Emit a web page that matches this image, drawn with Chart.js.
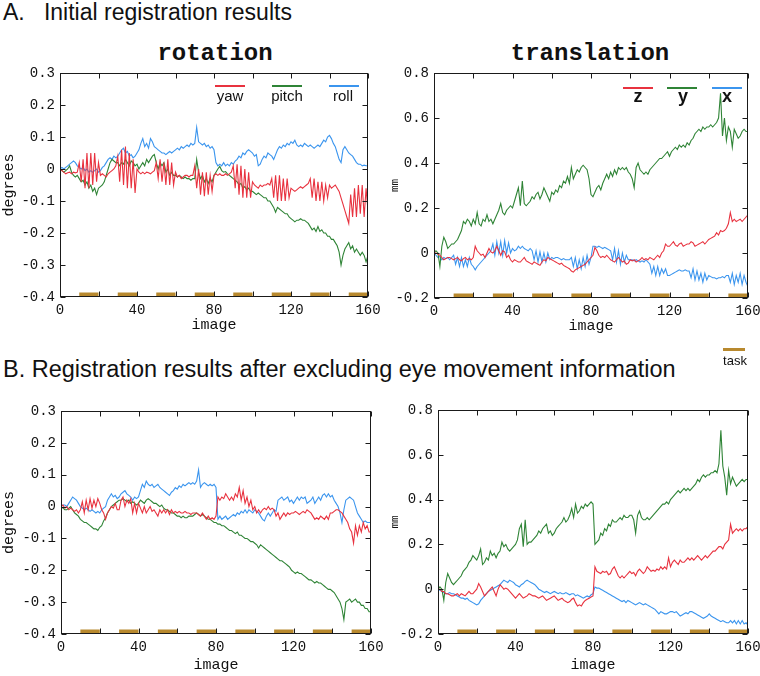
<!DOCTYPE html>
<html>
<head>
<meta charset="utf-8">
<script src="https://cdn.jsdelivr.net/npm/chart.js@4"></script>
<style>
  body { margin: 0; background: #fff; }
  #page { position: relative; width: 760px; height: 676px; overflow: hidden;
          font-family: "Liberation Sans", Arial, sans-serif; color: #111; }
  canvas { position: absolute; }
  .head { position: absolute; left: 3px; font-size: 23px; line-height: 23px; white-space: pre; }
  .sub { position: absolute; width: 300px; text-align: center; font-family: "Liberation Mono", monospace;
         font-weight: bold; font-size: 24px; line-height: 24px; }
  .key { position: absolute; width: 30px; height: 0; border-top: 2px solid; }
  .keyt { position: absolute; width: 60px; text-align: center; }
</style>
</head>
<body>
<div id="page">
  <div class="head" style="top:1px">A.   Initial registration results</div>
  <div class="sub" style="left:65px;top:42px">rotation</div>
  <div class="sub" style="left:440px;top:42px">translation</div>
  <div class="head" style="top:358px;font-size:23.5px">B. Registration results after excluding eye movement information</div>

  <canvas id="rotA" width="390" height="290" style="left:0;top:60px"></canvas>
  <canvas id="traA" width="380" height="290" style="left:380px;top:60px"></canvas>
  <canvas id="rotB" width="390" height="290" style="left:0;top:398px"></canvas>
  <canvas id="traB" width="380" height="290" style="left:380px;top:397px"></canvas>

  <div id="legRot"></div>
  <div id="legTra"></div>
  <div class="key" style="left:723px;top:348px;width:22px;border-top:3px solid #b8892e"></div>
  <div class="keyt" style="left:705px;top:354px;font-size:13px;line-height:13px">task</div>
</div>

<script>
// 가로축: 영상 번호 0 ~ 160
const images = Array.from({length: 161}, (_, i) => i);

// 과제 구간 (시작 영상, 길이)
const taskStarts = [10, 30, 50, 70, 90, 110, 130, 150];
const taskLength = 10;

const rotationNames = ["yaw", "pitch", "roll"];
const translationNames = ["z", "y", "x"];
const colors = ["#e8323f", "#2f8436", "#3b95ee"];
const taskColor = "#b8892e";

// A. 초기 정합 결과 - 회전 (degrees)
const yawA = [
  0,-0.005,-0.01,-0.015,-0.012,-0.01,-0.015,-0.01,-0.012,-0.01,
  0.02,-0.04,0.03,-0.06,0.05,-0.06,0.05,-0.05,0.05,-0.04,
  0.02,-0.02,-0.015,-0.02,-0.025,-0.015,-0.01,-0.005,0,0.01,
  0.04,-0.04,0.06,-0.05,0.07,-0.06,0.05,-0.06,0.03,-0.075,
  0,-0.01,-0.015,-0.01,-0.015,-0.01,-0.012,-0.015,-0.01,-0.005,
  0.02,-0.03,0.03,-0.04,0.02,-0.05,0.03,-0.05,0.02,-0.05,
  -0.01,-0.025,-0.02,-0.03,-0.025,-0.02,-0.02,-0.025,-0.02,-0.02,
  0.01,-0.06,0,-0.08,-0.01,-0.085,-0.01,-0.08,-0.02,-0.07,
  -0.02,-0.015,-0.02,-0.015,-0.02,-0.02,-0.015,-0.02,-0.015,-0.01,
  0.01,-0.06,0.015,-0.08,0.01,-0.09,0,-0.09,-0.01,-0.09,
  -0.04,-0.05,-0.055,-0.06,-0.05,-0.055,-0.05,-0.05,-0.045,-0.05,
  -0.03,-0.09,-0.02,-0.1,-0.02,-0.1,-0.03,-0.1,-0.03,-0.09,
  -0.06,-0.065,-0.07,-0.065,-0.06,-0.055,-0.06,-0.055,-0.05,-0.045,
  -0.03,-0.09,-0.03,-0.1,-0.04,-0.1,-0.04,-0.1,-0.05,-0.09,
  -0.05,-0.06,-0.055,-0.05,-0.06,-0.07,-0.09,-0.11,-0.13,-0.15,
  -0.17,-0.08,-0.15,-0.06,-0.15,-0.05,-0.14,-0.05,-0.15,-0.06,
  -0.13];
const pitchA = [
  0,-0.005,-0.01,-0.005,0,0.01,-0.01,-0.02,-0.025,-0.02,
  -0.03,-0.04,-0.035,-0.05,-0.04,-0.06,-0.05,-0.07,-0.06,-0.08,
  -0.06,-0.055,-0.05,-0.04,-0.02,0,0.02,0.03,0.025,0.02,
  0.02,0.01,0.02,0.015,0.03,0.02,0.01,0.025,0.02,0.01,
  0.015,0,0.01,0.02,0.01,0.03,0.02,0.03,0.04,0.045,
  0.02,0,0.02,0.01,0.02,-0.01,0,-0.02,-0.01,-0.02,
  -0.02,-0.025,-0.02,-0.025,-0.03,-0.025,-0.03,-0.03,-0.035,-0.03,
  -0.03,0.03,-0.01,-0.03,-0.02,-0.04,-0.03,-0.045,-0.03,-0.04,
  -0.02,-0.01,0,0.008,-0.005,-0.01,-0.008,-0.015,-0.02,-0.025,
  -0.03,-0.035,-0.04,-0.05,-0.045,-0.06,-0.055,-0.065,-0.06,-0.07,
  -0.07,-0.075,-0.08,-0.075,-0.08,-0.085,-0.09,-0.09,-0.1,-0.1,
  -0.11,-0.12,-0.135,-0.12,-0.125,-0.13,-0.135,-0.14,-0.14,-0.15,
  -0.155,-0.16,-0.165,-0.16,-0.16,-0.155,-0.16,-0.16,-0.165,-0.17,
  -0.18,-0.19,-0.185,-0.195,-0.18,-0.195,-0.19,-0.2,-0.2,-0.21,
  -0.21,-0.22,-0.22,-0.23,-0.24,-0.26,-0.3,-0.27,-0.25,-0.24,
  -0.23,-0.25,-0.24,-0.26,-0.25,-0.26,-0.27,-0.26,-0.27,-0.29,
  -0.27];
const rollA = [
  0,0.005,0,0.005,0.01,0.015,0.02,0.025,0.02,0.01,
  0.005,0,0.005,-0.005,0,-0.01,-0.005,-0.01,-0.005,0,
  -0.01,-0.005,0.005,0.01,0.02,0.03,0.035,0.03,0.04,0.035,
  0.04,0.05,0.06,0.065,0.05,0.055,0.04,0.045,0.035,0.04,
  0.05,0.06,0.08,0.095,0.07,0.08,0.065,0.095,0.085,0.07,
  0.065,0.06,0.055,0.05,0.05,0.045,0.05,0.055,0.05,0.055,
  0.06,0.065,0.06,0.07,0.065,0.07,0.075,0.07,0.08,0.075,
  0.08,0.13,0.085,0.08,0.075,0.08,0.07,0.075,0.065,0.07,
  0.06,0.02,0.01,0.015,0.01,0.02,0.01,0.015,0.01,0.02,
  0.015,0.025,0.03,0.04,0.035,0.05,0.045,0.055,0.06,0.055,
  0.05,0.04,0.045,0.01,0.015,0.03,0.04,0.035,0.05,0.045,
  0.04,0.03,0.045,0.06,0.07,0.065,0.075,0.07,0.08,0.075,
  0.085,0.08,0.09,0.075,0.07,0.075,0.07,0.08,0.075,0.07,
  0.075,0.07,0.065,0.07,0.075,0.07,0.08,0.09,0.085,0.1,
  0.105,0.095,0.08,0.07,0.05,0.03,0.02,0.06,0.07,0.06,
  0.05,0.045,0.04,0.03,0.02,0.015,0.015,0.01,0.012,0.01,
  0.01];

// A. 초기 정합 결과 - 이동 (mm)
const zA = [
  0,0,-0.005,-0.01,-0.02,-0.03,-0.025,-0.02,-0.02,-0.025,
  -0.03,-0.025,-0.02,-0.03,-0.035,-0.025,-0.02,-0.03,-0.025,-0.03,
  -0.02,0.03,0.01,0,-0.01,-0.005,-0.02,0,0.02,0.005,
  0,0.01,0.03,0.01,-0.01,0.01,0.005,-0.02,-0.01,-0.03,
  -0.04,-0.03,-0.035,-0.04,-0.04,-0.03,-0.02,-0.035,-0.04,-0.045,
  -0.05,-0.04,-0.045,-0.05,-0.055,-0.04,-0.03,-0.035,-0.02,-0.025,
  -0.03,-0.035,-0.04,-0.045,-0.05,-0.045,-0.055,-0.06,-0.065,-0.07,
  -0.08,-0.085,-0.075,-0.07,-0.065,-0.06,-0.055,-0.05,-0.04,-0.03,
  -0.02,-0.01,0.025,0.01,-0.01,-0.02,-0.015,-0.02,-0.01,-0.02,
  -0.03,-0.035,-0.04,-0.03,-0.02,-0.03,-0.04,-0.035,-0.05,-0.045,
  -0.03,-0.035,-0.03,-0.04,-0.035,-0.03,-0.02,-0.03,-0.025,-0.03,
  -0.02,-0.025,-0.03,-0.02,-0.01,-0.02,0,0.01,0.04,0.03,
  0.03,0.04,0.05,0.035,0.03,0.04,0.045,0.03,0.035,0.04,
  0.04,0.05,0.045,0.03,0.035,0.04,0.045,0.05,0.04,0.05,
  0.06,0.065,0.07,0.075,0.09,0.08,0.1,0.095,0.1,0.11,
  0.13,0.18,0.14,0.15,0.14,0.145,0.15,0.14,0.15,0.16,
  0.17];
const yA = [
  0,0.01,0,-0.06,0.03,0.07,0.05,0.02,0.03,0.04,
  0.04,0.05,0.06,0.08,0.1,0.14,0.13,0.15,0.14,0.12,
  0.15,0.13,0.18,0.13,0.12,0.15,0.14,0.17,0.14,0.15,
  0.13,0.15,0.17,0.19,0.22,0.18,0.17,0.19,0.2,0.21,
  0.2,0.23,0.26,0.29,0.21,0.32,0.22,0.21,0.22,0.23,
  0.25,0.24,0.26,0.27,0.24,0.26,0.29,0.27,0.25,0.23,
  0.27,0.26,0.28,0.27,0.3,0.29,0.32,0.31,0.34,0.31,
  0.38,0.33,0.35,0.37,0.36,0.38,0.39,0.38,0.37,0.33,
  0.26,0.25,0.27,0.29,0.3,0.28,0.31,0.33,0.35,0.33,
  0.36,0.34,0.37,0.35,0.38,0.37,0.38,0.37,0.38,0.36,
  0.35,0.33,0.29,0.38,0.4,0.37,0.36,0.35,0.36,0.35,
  0.37,0.38,0.39,0.4,0.41,0.42,0.42,0.43,0.44,0.45,
  0.43,0.45,0.46,0.47,0.46,0.48,0.47,0.48,0.47,0.49,
  0.48,0.5,0.51,0.53,0.54,0.55,0.54,0.56,0.55,0.56,
  0.56,0.57,0.56,0.57,0.58,0.6,0.71,0.52,0.6,0.5,
  0.56,0.54,0.47,0.55,0.53,0.51,0.52,0.54,0.55,0.54,
  0.54];
const xA = [
  0,-0.01,-0.02,-0.015,-0.03,-0.02,-0.025,-0.02,-0.03,-0.02,
  -0.01,-0.05,-0.02,-0.06,-0.02,-0.06,-0.03,-0.06,-0.02,-0.05,
  -0.06,-0.075,-0.06,-0.05,-0.04,-0.03,-0.02,-0.01,0,0.01,
  0.04,-0.01,0.05,0,0.05,-0.01,0.055,0,0.045,0,
  0.02,0.01,0.015,0.03,0.02,0.03,0.02,0.015,0.01,0.02,
  0.01,-0.03,0.01,-0.04,0.005,-0.04,0,-0.04,0,-0.03,
  -0.02,-0.025,-0.02,-0.02,-0.025,-0.03,-0.025,-0.03,-0.03,-0.03,
  -0.02,-0.06,-0.02,-0.07,-0.03,-0.07,-0.02,-0.06,-0.01,-0.05,
  -0.02,0.03,0.03,0.025,0.03,0.025,0.02,0.025,0.02,0.015,
  0.01,-0.03,0.02,-0.04,0.01,-0.05,0,-0.04,-0.01,-0.03,
  -0.03,-0.03,-0.035,-0.03,-0.035,-0.04,-0.035,-0.04,-0.03,-0.04,
  -0.05,-0.09,-0.06,-0.1,-0.06,-0.1,-0.07,-0.09,-0.07,-0.1,
  -0.1,-0.095,-0.09,-0.085,-0.08,-0.075,-0.08,-0.08,-0.075,-0.08,
  -0.08,-0.11,-0.07,-0.12,-0.08,-0.12,-0.09,-0.13,-0.09,-0.12,
  -0.1,-0.105,-0.11,-0.11,-0.115,-0.11,-0.11,-0.105,-0.11,-0.1,
  -0.1,-0.13,-0.09,-0.14,-0.1,-0.13,-0.09,-0.14,-0.1,-0.13,
  -0.15];

// B. 안구 운동 정보 제외 후 - 회전 (degrees)
const yawB = [
  0,0.005,-0.005,0,-0.01,-0.005,-0.01,-0.015,-0.01,-0.02,
  -0.01,0.015,-0.02,0.02,-0.01,0.025,-0.005,0.02,0,0.025,
  0.01,-0.01,-0.02,-0.04,-0.02,-0.01,0,-0.005,0.01,-0.01,
  -0.01,0.02,0.03,0,0.02,0.01,0.025,-0.02,0.01,-0.02,
  0.01,-0.005,-0.02,0,-0.02,-0.01,0,-0.015,-0.01,-0.02,
  -0.03,-0.01,-0.02,-0.01,-0.02,-0.01,-0.025,-0.01,-0.02,-0.015,
  -0.02,-0.015,-0.02,-0.02,-0.015,-0.02,-0.02,-0.025,-0.02,-0.02,
  -0.02,-0.025,-0.03,-0.02,-0.03,-0.04,-0.03,-0.04,-0.035,-0.04,
  -0.03,0.03,0.02,0.03,0.025,0.04,0.03,0.02,0.03,0.02,
  0.04,0.03,0.06,0.02,0.05,0.01,0.03,0,0.02,-0.01,
  0,-0.02,-0.01,-0.02,-0.01,-0.005,-0.01,0,-0.01,-0.005,
  -0.01,-0.03,-0.02,-0.04,-0.03,-0.02,-0.03,-0.02,-0.025,-0.02,
  -0.02,-0.015,-0.02,-0.025,-0.02,-0.015,-0.02,-0.01,-0.015,-0.02,
  -0.03,-0.04,-0.035,-0.04,-0.03,-0.035,-0.04,-0.03,-0.04,-0.02,
  -0.02,-0.015,-0.01,-0.01,-0.015,-0.02,-0.03,-0.04,-0.05,-0.07,
  -0.08,-0.115,-0.06,-0.09,-0.06,-0.08,-0.05,-0.07,-0.06,-0.08,
  -0.08];
const pitchB = [
  0,-0.005,-0.01,-0.01,-0.005,0,-0.01,-0.02,-0.025,-0.03,
  -0.04,-0.045,-0.05,-0.05,-0.055,-0.06,-0.065,-0.07,-0.07,-0.075,
  -0.065,-0.06,-0.045,-0.035,-0.02,-0.01,0,0.005,0.01,0.015,
  0.02,0.02,0.025,0.02,0.015,0.02,0.01,0.015,0.01,0.005,
  0.01,0.02,0.015,0.01,0.02,0.025,0.02,0.015,0.01,0.01,
  0.005,0,0.005,-0.005,-0.01,-0.01,-0.015,-0.02,-0.02,-0.025,
  -0.03,-0.03,-0.035,-0.03,-0.035,-0.035,-0.03,-0.03,-0.03,-0.025,
  -0.02,-0.025,-0.03,-0.025,-0.03,-0.035,-0.04,-0.04,-0.045,-0.05,
  -0.05,-0.055,-0.055,-0.06,-0.06,-0.065,-0.07,-0.075,-0.075,-0.08,
  -0.085,-0.08,-0.09,-0.09,-0.095,-0.1,-0.1,-0.105,-0.11,-0.11,
  -0.115,-0.12,-0.13,-0.12,-0.125,-0.13,-0.135,-0.14,-0.145,-0.15,
  -0.155,-0.16,-0.165,-0.17,-0.17,-0.175,-0.18,-0.185,-0.19,-0.2,
  -0.205,-0.21,-0.205,-0.21,-0.21,-0.215,-0.22,-0.225,-0.23,-0.23,
  -0.235,-0.24,-0.235,-0.24,-0.24,-0.245,-0.25,-0.255,-0.26,-0.26,
  -0.265,-0.27,-0.28,-0.29,-0.3,-0.32,-0.355,-0.3,-0.295,-0.29,
  -0.3,-0.295,-0.29,-0.3,-0.3,-0.31,-0.31,-0.32,-0.32,-0.33,
  -0.33];
const rollB = [
  0,0.005,0.005,0,0.01,0.02,0.03,0.025,0.02,0.01,
  0,-0.005,-0.01,-0.005,-0.01,-0.015,-0.01,-0.015,-0.02,-0.015,
  -0.02,-0.01,-0.005,0,0.02,0.03,0.04,0.03,0.035,0.025,
  0.03,0.04,0.045,0.05,0.04,0.035,0.03,0.02,0.03,0.025,
  0.03,0.05,0.07,0.06,0.08,0.07,0.065,0.07,0.06,0.065,
  0.07,0.06,0.055,0.05,0.045,0.04,0.035,0.045,0.05,0.06,
  0.055,0.065,0.06,0.07,0.065,0.07,0.075,0.07,0.075,0.07,
  0.08,0.115,0.06,0.07,0.075,0.07,0.065,0.07,0.065,0.07,
  0.06,-0.04,-0.03,-0.04,-0.035,-0.03,-0.04,-0.035,-0.03,-0.025,
  -0.03,-0.02,-0.025,-0.015,-0.02,-0.01,-0.02,-0.01,-0.015,-0.02,
  -0.01,-0.015,-0.02,-0.03,-0.04,-0.045,-0.03,-0.02,-0.03,-0.02,
  -0.01,-0.015,0.02,0.025,0.03,0.02,0.025,0.03,0.015,0.02,
  0.01,0.02,0.03,0.02,0.03,0.025,0.03,0.01,0.015,0.02,
  0.03,0.01,0.02,0.03,0.02,0.035,0.04,0.03,0.04,0.03,
  0.035,0.02,0.01,0,-0.02,-0.05,-0.01,0.02,0.025,0.03,
  0.025,0.02,0,-0.02,-0.03,-0.04,-0.05,-0.045,-0.05,-0.05,
  -0.05];

// B. 안구 운동 정보 제외 후 - 이동 (mm)
const zB = [
  0,0,-0.01,-0.01,-0.02,-0.02,-0.025,-0.03,-0.03,-0.025,
  -0.02,-0.03,-0.02,-0.025,-0.03,-0.02,-0.01,-0.02,-0.02,-0.01,
  0,0.025,0.01,-0.01,-0.03,-0.02,-0.01,0,0.01,-0.01,
  -0.03,0,0.02,0.01,0,0.005,0,-0.01,-0.02,-0.03,
  -0.04,-0.03,-0.02,-0.03,-0.04,-0.035,-0.03,-0.02,-0.025,-0.03,
  -0.03,-0.035,-0.04,-0.035,-0.03,-0.04,-0.05,-0.045,-0.04,-0.035,
  -0.03,-0.04,-0.05,-0.045,-0.04,-0.05,-0.055,-0.06,-0.055,-0.045,
  -0.04,-0.06,-0.075,-0.07,-0.075,-0.06,-0.05,-0.045,-0.04,-0.035,
  -0.03,0.1,0.08,0.075,0.07,0.08,0.075,0.08,0.065,0.07,
  0.09,0.1,0.08,0.06,0.05,0.06,0.05,0.06,0.07,0.08,
  0.07,0.075,0.06,0.08,0.09,0.08,0.07,0.08,0.1,0.09,
  0.08,0.085,0.08,0.09,0.085,0.1,0.09,0.1,0.09,0.14,
  0.1,0.12,0.13,0.12,0.11,0.13,0.12,0.12,0.13,0.14,
  0.13,0.14,0.13,0.14,0.15,0.14,0.13,0.14,0.15,0.14,
  0.15,0.16,0.17,0.17,0.18,0.19,0.19,0.18,0.2,0.21,
  0.22,0.29,0.25,0.26,0.27,0.26,0.27,0.26,0.27,0.27,
  0.28];
const yB = [
  0,0.01,0,-0.05,0.03,0.07,0.05,0.03,0.02,0.03,
  0.04,0.05,0.06,0.08,0.09,0.1,0.12,0.13,0.15,0.14,
  0.13,0.15,0.18,0.11,0.12,0.14,0.13,0.17,0.15,0.16,
  0.14,0.16,0.17,0.21,0.19,0.2,0.18,0.17,0.18,0.19,
  0.2,0.22,0.27,0.29,0.19,0.31,0.2,0.21,0.21,0.22,
  0.23,0.24,0.26,0.25,0.27,0.28,0.29,0.25,0.26,0.24,
  0.25,0.27,0.28,0.29,0.3,0.32,0.3,0.31,0.33,0.36,
  0.32,0.38,0.34,0.35,0.37,0.36,0.38,0.37,0.38,0.39,
  0.38,0.2,0.21,0.22,0.25,0.24,0.27,0.26,0.29,0.28,
  0.31,0.3,0.3,0.31,0.32,0.31,0.33,0.32,0.32,0.33,
  0.33,0.31,0.25,0.33,0.35,0.32,0.31,0.31,0.32,0.31,
  0.32,0.33,0.34,0.35,0.36,0.37,0.38,0.38,0.39,0.38,
  0.4,0.41,0.42,0.43,0.44,0.43,0.44,0.45,0.44,0.45,
  0.44,0.45,0.46,0.47,0.49,0.48,0.5,0.51,0.5,0.51,
  0.51,0.52,0.52,0.53,0.52,0.56,0.71,0.55,0.5,0.42,
  0.53,0.47,0.5,0.48,0.46,0.47,0.48,0.49,0.48,0.49,
  0.49];
const xB = [
  0,-0.005,-0.01,-0.015,-0.02,-0.02,-0.015,-0.02,-0.02,-0.025,
  -0.03,-0.035,-0.04,-0.04,-0.045,-0.04,-0.05,-0.055,-0.06,-0.065,
  -0.07,-0.065,-0.05,-0.04,-0.03,-0.02,-0.01,-0.005,0,0.005,
  0.01,0.015,0.02,0.03,0.04,0.035,0.03,0.04,0.035,0.03,
  0.02,0.015,0.01,0.02,0.025,0.035,0.04,0.035,0.03,0.025,
  0.02,0.01,0,-0.005,-0.01,-0.015,-0.01,-0.015,-0.02,-0.015,
  -0.01,-0.015,-0.02,-0.015,-0.02,-0.02,-0.015,-0.02,-0.025,-0.02,
  -0.02,-0.03,-0.025,-0.03,-0.035,-0.04,-0.035,-0.03,-0.035,-0.025,
  -0.02,0.01,0.005,0.005,0,-0.005,-0.01,-0.015,-0.02,-0.025,
  -0.03,-0.035,-0.04,-0.045,-0.05,-0.055,-0.05,-0.06,-0.05,-0.055,
  -0.06,-0.065,-0.07,-0.065,-0.06,-0.065,-0.07,-0.065,-0.07,-0.075,
  -0.08,-0.085,-0.09,-0.1,-0.11,-0.1,-0.105,-0.11,-0.11,-0.105,
  -0.1,-0.1,-0.105,-0.1,-0.11,-0.12,-0.115,-0.11,-0.105,-0.11,
  -0.1,-0.1,-0.105,-0.11,-0.115,-0.12,-0.125,-0.13,-0.125,-0.12,
  -0.11,-0.12,-0.125,-0.13,-0.135,-0.14,-0.145,-0.14,-0.145,-0.15,
  -0.15,-0.14,-0.15,-0.14,-0.155,-0.14,-0.155,-0.14,-0.155,-0.15,
  -0.16];

// 그림 틀과 안쪽 눈금 (네 변 모두)
const frameTicks = {
  id: "frameTicks",
  afterDatasetsDraw(chart) {
    const {ctx, chartArea: a, scales: {x, y}} = chart;
    const L = Math.round(a.left) + 0.5, R = Math.round(a.right) - 0.5;
    const T = Math.round(a.top) + 0.5, B = Math.round(a.bottom) - 0.5;
    ctx.save();
    ctx.strokeStyle = "#1a1a1a";
    ctx.lineWidth = 1;
    ctx.strokeRect(L, T, R - L, B - T);
    ctx.beginPath();
    x.ticks.forEach(t => {
      const px = Math.round(x.getPixelForValue(t.value)) + 0.5;
      ctx.moveTo(px, B); ctx.lineTo(px, B - 5);
      ctx.moveTo(px, T); ctx.lineTo(px, T + 5);
    });
    y.ticks.forEach(t => {
      const py = Math.round(y.getPixelForValue(t.value)) + 0.5;
      ctx.moveTo(L, py); ctx.lineTo(L + 5, py);
      ctx.moveTo(R, py); ctx.lineTo(R - 5, py);
    });
    ctx.stroke();
    ctx.restore();
  }
};

function taskPoints(level) {
  const pts = [];
  taskStarts.forEach(s => {
    pts.push({x: s, y: level}, {x: s + taskLength, y: level}, {x: s + taskLength, y: null});
  });
  return pts;
}

function fmt(v) {
  return Math.abs(v) < 1e-9 ? "0" : v.toFixed(1);
}

const mono = "'Liberation Mono', 'DejaVu Sans Mono', monospace";

function drawPanel(id, series, yMin, yMax, yStep, yTitle, o) {
  const sets = series.map((vals, k) => ({
    data: vals.map((v, i) => ({x: images[i], y: v})),
    borderColor: colors[k],
    borderWidth: 1.1,
  }));
  // 과제 막대는 가로축 바로 위에
  sets.push({
    data: taskPoints(yMin + (yMax - yMin) * 0.011),
    borderColor: taskColor,
    borderWidth: 4,
    borderCapStyle: "butt",
    spanGaps: false,
  });
  // 빨강(0번)이 맨 위에 그려지도록 순서 유지
  new Chart(document.getElementById(id), {
    type: "line",
    data: {datasets: sets},
    plugins: [frameTicks],
    options: {
      responsive: false,
      animation: false,
      layout: {padding: o.pad},
      elements: {point: {radius: 0}, line: {tension: 0}},
      plugins: {legend: {display: false}, tooltip: {enabled: false}},
      scales: {
        x: {
          type: "linear", min: 0, max: 160,
          grid: {display: false, drawTicks: false},
          border: {display: false},
          ticks: {stepSize: 20, autoSkip: false, maxRotation: 0, padding: 5, color: "#111",
                  font: {family: mono, size: 14},
                  callback: v => (v % 40 === 0 ? String(v) : "")},
          title: {display: true, text: "image", color: "#111", font: {family: mono, size: 15},
                  padding: {top: 0, bottom: o.xTitlePad}},
          afterFit: s => { s.height = o.xHeight; s.paddingLeft = 0; s.paddingRight = 0; },
        },
        y: {
          min: yMin, max: yMax,
          grid: {display: false, drawTicks: false},
          border: {display: false},
          ticks: {stepSize: yStep, padding: 5, color: "#111", font: {family: mono, size: 14}, callback: fmt},
          title: {display: true, text: yTitle, color: "#111", font: {family: mono, size: o.yTitleSize},
                  padding: {top: o.yTitlePad, bottom: 0}},
          afterFit: s => { s.width = o.yWidth; s.paddingTop = 0; s.paddingBottom = 0; },
        },
      },
    },
  });
}

drawPanel("rotA", [yawA, pitchA, rollA], -0.4, 0.3, 0.1, "degrees",
  {pad: {left: 0, right: 22, top: 13, bottom: 13}, yWidth: 60, xHeight: 40, xTitlePad: 2.5, yTitleSize: 15, yTitlePad: 0});
drawPanel("traA", [zA, yA, xA], -0.2, 0.8, 0.2, "mm",
  {pad: {left: 0, right: 12, top: 13, bottom: 12}, yWidth: 54, xHeight: 40, xTitlePad: 2.5, yTitleSize: 11, yTitlePad: 8});
drawPanel("rotB", [yawB, pitchB, rollB], -0.4, 0.3, 0.1, "degrees",
  {pad: {left: 0, right: 19, top: 13, bottom: 10}, yWidth: 61, xHeight: 44, xTitlePad: 3.5, yTitleSize: 15, yTitlePad: 0});
drawPanel("traB", [zB, yB, xB], -0.2, 0.8, 0.2, "mm",
  {pad: {left: 0, right: 12, top: 13, bottom: 9}, yWidth: 58, xHeight: 44, xTitlePad: 3.5, yTitleSize: 11, yTitlePad: 8});

// 범례 (A 패널 위쪽 안)
function legend(el, names, lineLefts, lineTop, textCenters, textTop, style) {
  const box = document.getElementById(el);
  names.forEach((n, k) => {
    const line = document.createElement("div");
    line.className = "key";
    line.style.cssText = `left:${lineLefts[k]}px;top:${lineTop}px;border-top-color:${colors[k]}`;
    box.appendChild(line);
    const t = document.createElement("div");
    t.className = "keyt";
    t.textContent = n;
    t.style.cssText = `left:${textCenters[k] - 30}px;top:${textTop}px;${style}`;
    box.appendChild(t);
  });
}
legend("legRot", rotationNames, [215, 272, 329], 85, [230, 287, 343], 88, "font-size:15px;line-height:15px");
legend("legTra", translationNames, [623, 667, 712], 87, [638, 683, 727], 87, "font-size:18px;line-height:18px;font-weight:bold");
</script>
</body>
</html>
